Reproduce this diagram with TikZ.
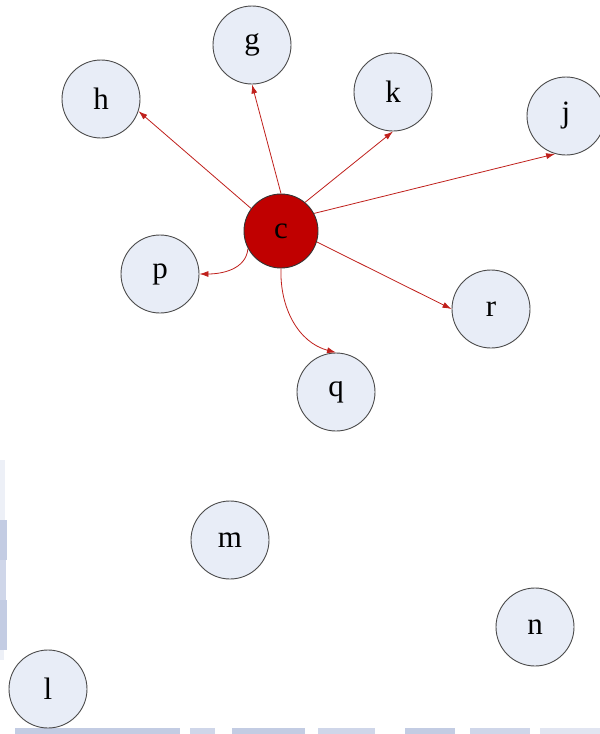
\documentclass[tikz,border=0pt]{standalone}
\usepackage{fontspec}
\setmainfont{Liberation Serif}
\usetikzlibrary{arrows.meta}
\definecolor{nodefill}{HTML}{E8EDF7}
\definecolor{nodeline}{HTML}{4A4A4A}
\definecolor{edgered}{HTML}{C0201C}
\definecolor{cfill}{HTML}{C00000}
\definecolor{stripcol}{HTML}{C3CCE3}
\tikzset{
  vert/.style={circle, draw=nodeline, fill=nodefill, line width=0.9pt, minimum size=78pt, inner sep=0pt, font=\fontsize{31}{31}\selectfont},
  hub/.style={vert, fill=cfill, draw=black!80, minimum size=74pt},
  edge/.style={draw=edgered, line width=0.8pt, -{Latex[length=9pt,width=6pt]}},
  strip/.style={fill=stripcol, draw=none}
}
\begin{document}
\begin{tikzpicture}[x=1pt,y=-1pt]
\useasboundingbox (0,0) rectangle (600,734);
\fill[white] (0,0) rectangle (600,734);
% background strips
\fill[stripcol!30] (0,460) rectangle (5,520);
\fill[strip] (0,520) rectangle (7,560);
\fill[stripcol!80] (0,560) rectangle (6,600);
\fill[strip] (0,600) rectangle (7,650);
\fill[stripcol!30] (0,650) rectangle (4,660);
\fill[strip] (15,728) rectangle (180,734);
\fill[stripcol!80] (190,728) rectangle (215,734);
\fill[strip] (232,728) rectangle (305,734);
\fill[stripcol!80] (318,728) rectangle (375,734);
\fill[strip] (405,728) rectangle (455,734);
\fill[stripcol!80] (470,728) rectangle (530,734);
\fill[stripcol!50] (540,728) rectangle (600,734);
% nodes
\node[vert] (g) at (252,45) {g};
\node[vert] (h) at (101,99) {h};
\node[vert] (k) at (393,92) {k};
\node[vert] (j) at (566,116) {j};
\node[hub] (c) at (281,231) {c};
\node[vert] (p) at (160,274) {p};
\node[vert] (r) at (491,309) {r};
\node[vert] (q) at (336,392) {q};
\node[vert] (m) at (230,540) {m};
\node[vert] (n) at (535,627) {n};
\node[vert] (l) at (48,689) {l};
% edges
\draw[edge] (c.143) -- (h.-18);
\draw[edge] (c.north) -- (g.south);
\draw[edge] (c.50) -- (k.south);
\draw[edge] (c.28) -- (j.-106);
\draw[edge] (c.-17) -- (r.west);
\draw[edge] (c.-152) to[out=-95,in=0] (p.east);
\draw[edge] (c.south) to[out=-92,in=165] (q.north);
\end{tikzpicture}
\end{document}
